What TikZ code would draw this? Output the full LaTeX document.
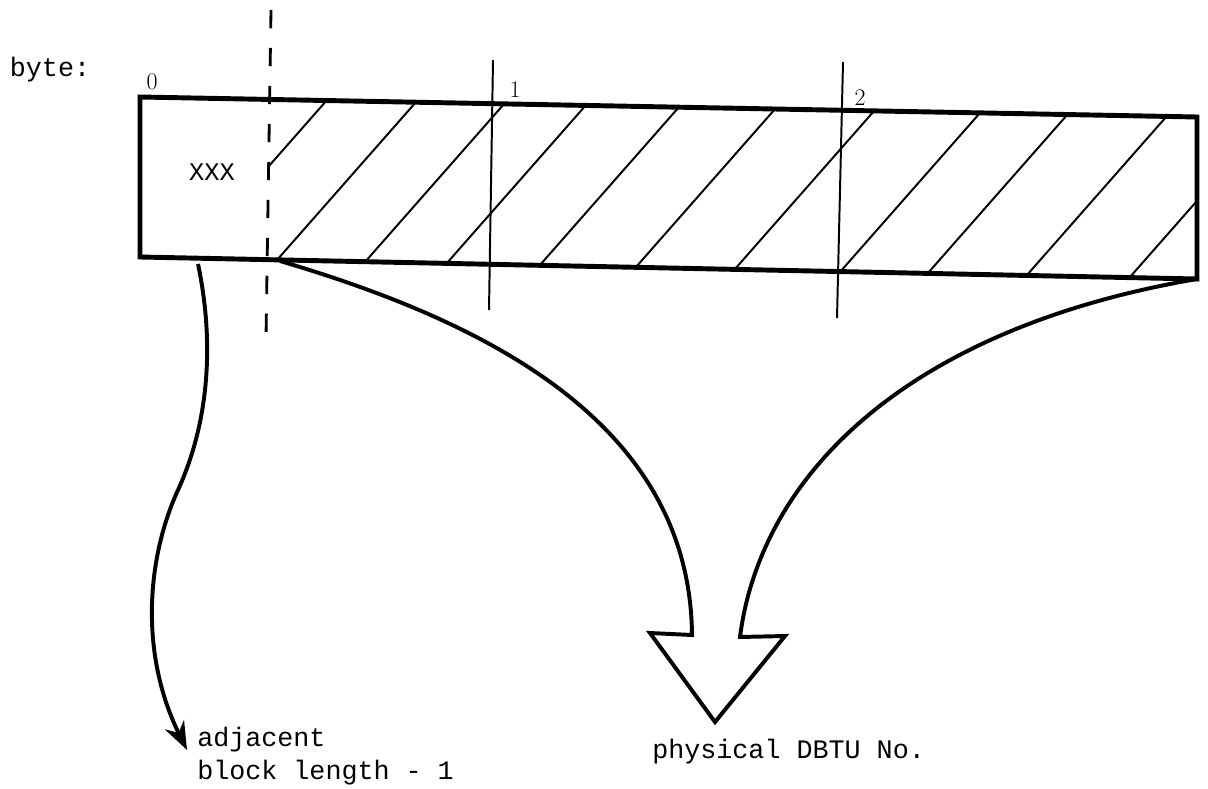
\documentclass[tikz,border=0pt]{standalone}
\usepackage{fontspec}
\setmonofont{Liberation Mono}
\usetikzlibrary{arrows.meta, positioning}

\begin{document}
\begin{tikzpicture}[x=0.025cm, y=-0.025cm,
      frame/.style={draw=black, line width=3.5pt, line join=miter},
      hatch/.style={black, line width=1.4pt},
      marker/.style={black, line width=1.4pt},
      cut/.style={black, line width=2pt, dash pattern=on 13pt off 14pt},
      arr/.style={black, line width=2.8pt, -{Stealth[length=20pt, width=15pt]}},
      hollow/.style={draw=black, line width=2.8pt, line join=miter},
      lbl/.style={font=\ttfamily\fontsize{19}{23.5}\selectfont, inner sep=0pt, align=left},
      num/.style={font=\fontsize{17}{19}\selectfont, inner sep=0pt}]
      \useasboundingbox (0,0) rectangle (1208,788);
      % Block corners
      \coordinate (tl) at (140,97);
      \coordinate (tr) at (1197,117);
      \coordinate (br) at (1197,279);
      \coordinate (bl) at (140,257);
      \coordinate (ct) at (270,99);
      \coordinate (cb) at (270,260);
      % Hatched part
      \begin{scope}
         \clip (ct) -- (tr) -- (br) -- (cb) -- cycle;
         \foreach \b/\yb in {188/258, 277/260, 365/262, 447/263, 540/265, 636/267,
                             735/269, 840/272, 928/273, 1027/275, 1130/277}
            \draw[hatch] ({\b-17.6},{\yb+20}) -- ++(176,-200);
      \end{scope}
      \draw[frame] (tl) -- (tr) -- (br) -- (bl) -- cycle;
      % Byte marks
      \draw[cut] (271,10) -- (266,337);
      \draw[marker] (493,60) -- (489,310);
      \draw[marker] (843,62) -- (837,318);
      % Labels
      \node[lbl] (byte) at (50,70) {byte:};
      \node[num] (zero) at (152,82) {0};
      \node[num] (one) at (515,90) {1};
      \node[num] (two) at (860,98) {2};
      \node[lbl, font=\ttfamily\fontsize{18}{22}\selectfont] (xxx) at (212,172) {XXX};
      \node[lbl, anchor=west] (adj) at (197,740) {adjacent};
      \node[lbl, anchor=west] (blk) at (197,773) {block length - 1};
      \node[lbl, anchor=west] (phys) at (652,752) {physical DBTU No.};
      % Arrows
      \coordinate (lstart) at (198,264);
      \draw[arr] (lstart) .. controls (214,340) and (210,420) .. (178,490)
         .. controls (146,560) and (140,655) .. ([shift={(-10,10)}]adj.west);
      \coordinate (hl) at (280,261);
      \coordinate (tip) at (715,722);
      \draw[hollow] (hl) .. controls (480,320) and (690,420) .. (692,635)
         -- (650,633) -- (tip) -- (785,636) -- (740,637)
         .. controls (760,480) and (900,330) .. (br);
   \end{tikzpicture}
\end{document}
